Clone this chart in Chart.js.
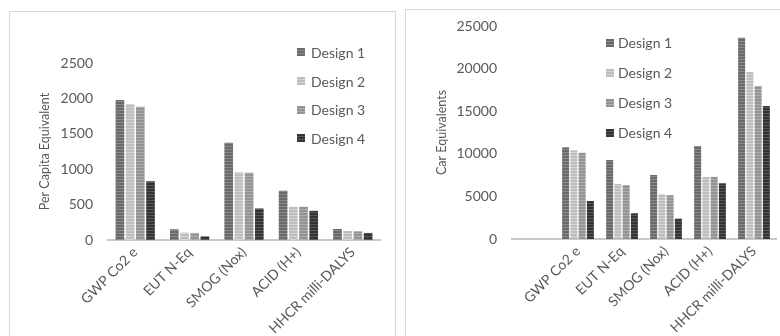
<!DOCTYPE html>
<html lang="en">
<head>
  <meta charset="UTF-8" />
  <title>Per Capita and Car Equivalents</title>
  <script src="https://cdn.jsdelivr.net/npm/chart.js"></script>
  <style>
    body {
      margin: 0;
      background: #fff;
      width: 780px;
      height: 336px;
      overflow: hidden;
      position: relative;
      font-family: 'Lato', sans-serif;
      color: #595959;
    }
    .panel {
      position: absolute;
      border: 1.5px solid #d9d9d9;
      border-bottom: none;
      background: #fff;
    }
    #panelLeft { left: 9px; top: 11px; width: 385px; height: 340px; }
    #panelRight { left: 405px; top: 9px; width: 400px; height: 340px; }
    .chartBox { position: absolute; top: 0; height: 336px; }
    #boxLeft { left: 0; width: 392px; }
    #boxRight { left: 400px; width: 380px; }
    .legend { position: absolute; font-size: 14px; }
    .legend .item { display: flex; align-items: center; }
    .legend .mark { width: 8px; height: 8px; display: inline-block; }
  </style>
</head>
<body>
  <div class="panel" id="panelLeft"></div>
  <div class="panel" id="panelRight"></div>

  <div class="chartBox" id="boxLeft"><canvas id="chartLeft"></canvas></div>
  <div class="chartBox" id="boxRight"><canvas id="chartRight"></canvas></div>

  <div class="legend" id="legendLeft" style="left:297px; top:38px;"></div>
  <div class="legend" id="legendRight" style="left:606px; top:28px;"></div>

  <script>
    // categories
    const categories = ['GWP Co2 e', 'EUT N-Eq', 'SMOG (Nox)', 'ACID (H+)', 'HHCR milli-DALYS'];
    const carCategories = ['', 'GWP Co2 e', 'EUT N-Eq', 'SMOG (Nox)', 'ACID (H+)', 'HHCR milli-DALYS'];
    const seriesNames = ['Design 1', 'Design 2', 'Design 3', 'Design 4'];

    // per capita equivalent (left chart)
    const capitaDesign1 = [1978, 152, 1374, 696, 156];
    const capitaDesign2 = [1920, 104, 956, 469, 128];
    const capitaDesign3 = [1882, 100, 950, 469, 122];
    const capitaDesign4 = [830, 52, 445, 412, 100];

    // car equivalents (right chart), first slot is empty
    const carDesign1 = [null, 10760, 9270, 7510, 10910, 23620];
    const carDesign2 = [null, 10410, 6460, 5250, 7290, 19590];
    const carDesign3 = [null, 10130, 6340, 5150, 7290, 17950];
    const carDesign4 = [null, 4460, 3020, 2390, 6540, 15600];

    const capitaTicks = [0, 500, 1000, 1500, 2000, 2500];
    const carTicks = [0, 5000, 10000, 15000, 20000, 25000];

    // base / stripe colours for each design
    const shades = [
      ['#6a6a6a', '#8a8a8a'],
      ['#bdbdbd', '#d4d4d4'],
      ['#939393', '#adadad'],
      ['#333333', '#595959']
    ];

    function stripes(base, light) {
      const c = document.createElement('canvas');
      c.width = 4;
      c.height = 3;
      const g = c.getContext('2d');
      g.fillStyle = base;
      g.fillRect(0, 0, 4, 3);
      g.fillStyle = light;
      g.fillRect(0, 2, 4, 1);
      return g.createPattern(c, 'repeat');
    }

    function buildLegend(el, rowHeight, gap) {
      seriesNames.forEach((name, i) => {
        const item = document.createElement('div');
        item.className = 'item';
        item.style.height = rowHeight + 'px';
        const mark = document.createElement('span');
        mark.className = 'mark';
        mark.style.background = `repeating-linear-gradient(to bottom, ${shades[i][0]} 0 2px, ${shades[i][1]} 2px 3px)`;
        mark.style.marginRight = gap + 'px';
        item.appendChild(mark);
        item.appendChild(document.createTextNode(name));
        el.appendChild(item);
      });
    }

    buildLegend(document.getElementById('legendLeft'), 28.7, 6);
    buildLegend(document.getElementById('legendRight'), 29.9, 4);

    Chart.defaults.font.family = 'Lato';
    Chart.defaults.color = '#595959';

    function makeChart(canvasId, labels, series, ticks, title, dims) {
      return new Chart(document.getElementById(canvasId), {
        type: 'bar',
        data: {
          labels: labels,
          datasets: series.map((data, i) => ({
            label: seriesNames[i],
            data: data,
            backgroundColor: stripes(shades[i][0], shades[i][1]),
            borderWidth: 0,
            categoryPercentage: 0.75,
            barPercentage: 0.85
          }))
        },
        options: {
          responsive: true,
          maintainAspectRatio: false,
          animation: false,
          layout: { padding: { top: dims.top, right: dims.right, left: 0, bottom: 0 } },
          plugins: {
            legend: { display: false },
            tooltip: { enabled: false }
          },
          scales: {
            x: {
              grid: { display: false, drawTicks: false },
              border: { display: true, color: '#c8c8c8', width: 2 },
              ticks: {
                autoSkip: false,
                maxRotation: 45,
                minRotation: 45,
                padding: 4,
                font: { size: 14 }
              },
              afterFit: (scale) => { scale.height = dims.xHeight; }
            },
            y: {
              min: 0,
              max: ticks[ticks.length - 1],
              afterBuildTicks: (scale) => { scale.ticks = ticks.map(v => ({ value: v })); },
              grid: { display: false, drawTicks: false },
              border: { display: false },
              ticks: {
                padding: 15,
                font: { size: 14 },
                callback: (v) => String(v)
              },
              title: {
                display: true,
                text: title,
                font: { size: 12.5 },
                padding: { top: dims.titlePad, bottom: 0 }
              },
              afterFit: (scale) => { scale.width = dims.yWidth; }
            }
          }
        }
      });
    }

    makeChart('chartLeft', categories,
      [capitaDesign1, capitaDesign2, capitaDesign3, capitaDesign4],
      capitaTicks, 'Per Capita Equivalent',
      { top: 63, right: 12, xHeight: 96, yWidth: 108, titlePad: 37.5 });

    makeChart('chartRight', carCategories,
      [carDesign1, carDesign2, carDesign3, carDesign4],
      carTicks, 'Car Equivalents',
      { top: 26, right: 4, xHeight: 97, yWidth: 112, titlePad: 34.2 });
  </script>
</body>
</html>
